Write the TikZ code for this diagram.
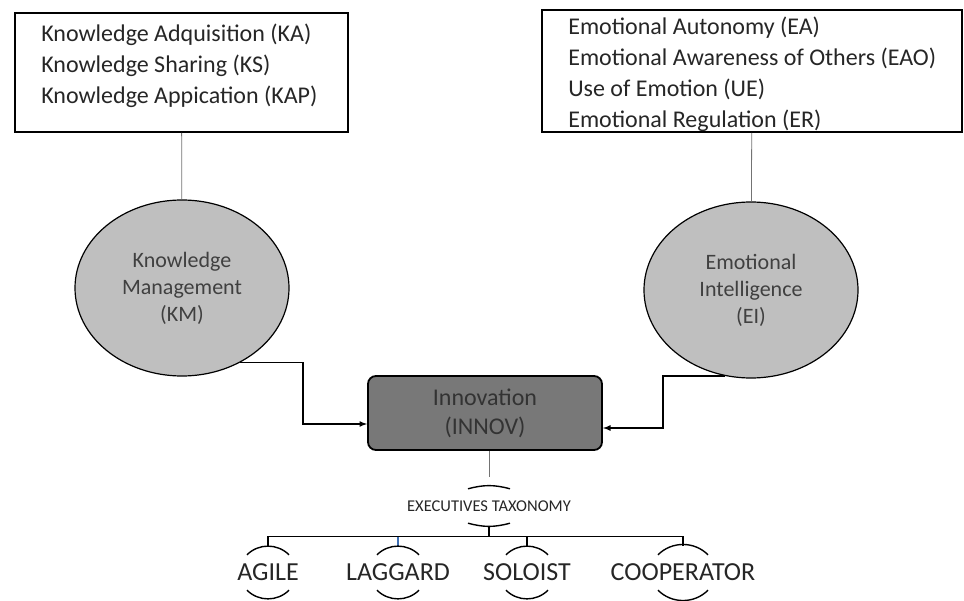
\documentclass[tikz,border=0pt]{standalone}
\usepackage{fontspec}
\setmainfont{Carlito}
\usetikzlibrary{shapes.geometric}
\definecolor{dropblue}{RGB}{60,110,180}

\begin{document}
\begin{tikzpicture}[x=1pt,y=-1pt]
    \tikzset{listbox/.style = {draw, line width=1.8pt, inner sep=0pt}}
    \tikzset{listtext/.style = {anchor=north west, align=left, inner sep=0pt, font=\fontsize{24}{31}\selectfont, text=black!85}}
    \tikzset{concept/.style = {shape=ellipse, draw, line width=1.2pt, fill=black!25, minimum width=214pt, minimum height=176pt, inner sep=0pt, align=center, font=\fontsize{22}{27}\selectfont, text=black!75}}
    \tikzset{core/.style = {draw, rounded corners=8pt, line width=1.8pt, fill=black!53, minimum width=234pt, minimum height=74pt, align=center, font=\fontsize{24}{29}\selectfont, text=black!80}}
    \tikzset{leaf/.style = {inner sep=0pt, minimum height=52pt, font=\fontsize{26}{30}\selectfont, text=black!85}}
    \tikzset{link/.style = {draw=black!55, line width=0.8pt}}
    \tikzset{feed/.style = {draw, line width=1.6pt, -latex}}
    \tikzset{tree/.style = {draw, line width=1.4pt}}
    \tikzset{brace/.style = {draw, line width=1.4pt}}

    \useasboundingbox (0,0) rectangle (964,601);

    % vertices
    \node[listbox, minimum width=333pt, minimum height=119pt] (ka) at (181.5,72.5) {};
    \node[listtext] (katext) at ([shift={(27,12)}]ka.north west) {Knowledge Adquisition (KA)\\Knowledge Sharing (KS)\\Knowledge Appication (KAP)};
    \node[listbox, minimum width=420pt, minimum height=122pt] (ea) at (752,71) {};
    \node[listtext] (eatext) at ([shift={(27,8)}]ea.north west) {Emotional Autonomy (EA)\\Emotional Awareness of Others (EAO)\\Use of Emotion (UE)\\Emotional Regulation (ER)};
    \node[concept] (km) at (182,288) {Knowledge\\Management\\(KM)};
    \node[concept] (ei) at (751,290) {Emotional\\Intelligence\\(EI)};
    \node[core] (innov) at (485,413) {Innovation\\(INNOV)};
    \node[inner sep=0pt, minimum height=40pt, font=\fontsize{16.5}{18}\selectfont, text=black!85] (tax) at (489,506) {EXECUTIVES TAXONOMY};
    \node[leaf] (agile) at (268,572) {AGILE};
    \node[leaf] (laggard) at (398,572) {LAGGARD};
    \node[leaf] (soloist) at (527,572) {SOLOIST};
    \node[leaf] (coop) at (683,572) {COOPERATOR};

    % edges
    \draw[link] (ka) -- (km);
    \draw[link] (ea) -- (ei);
    \draw[feed] (km.-52) -- ++(63,0) |- ([yshift=-11pt]innov.west);
    \draw[feed] (ei.-107) -- ++(-62,0) |- ([yshift=-15pt]innov.east);
    \draw[link] (innov.south -| tax.north) -- ([yshift=9pt]tax.north);
    \draw[brace] ([shift={(-21,3)}]tax.north) to[bend left=15] ([shift={(21,3)}]tax.north);
    \draw[brace] ([shift={(-21,-3)}]tax.south) to[bend right=15] ([shift={(21,-3)}]tax.south);
    \draw[tree] (tax.south) -- ++(0,10) coordinate (bus);
    \foreach \leaf/\col in {laggard/dropblue, agile/black, soloist/black, coop/black}
        \draw[tree, draw=\col] (bus) -| (\leaf.north);
    \foreach \leaf/\hw in {agile/21, laggard/21, soloist/21, coop/25} {
        \draw[brace] ([shift={(-\hw,9)}]\leaf.north) to[bend left=45] ([shift={(\hw,9)}]\leaf.north);
        \draw[brace] ([shift={(-\hw,-8)}]\leaf.south) to[bend right=45] ([shift={(\hw,-8)}]\leaf.south);
    }
\end{tikzpicture}
\end{document}
